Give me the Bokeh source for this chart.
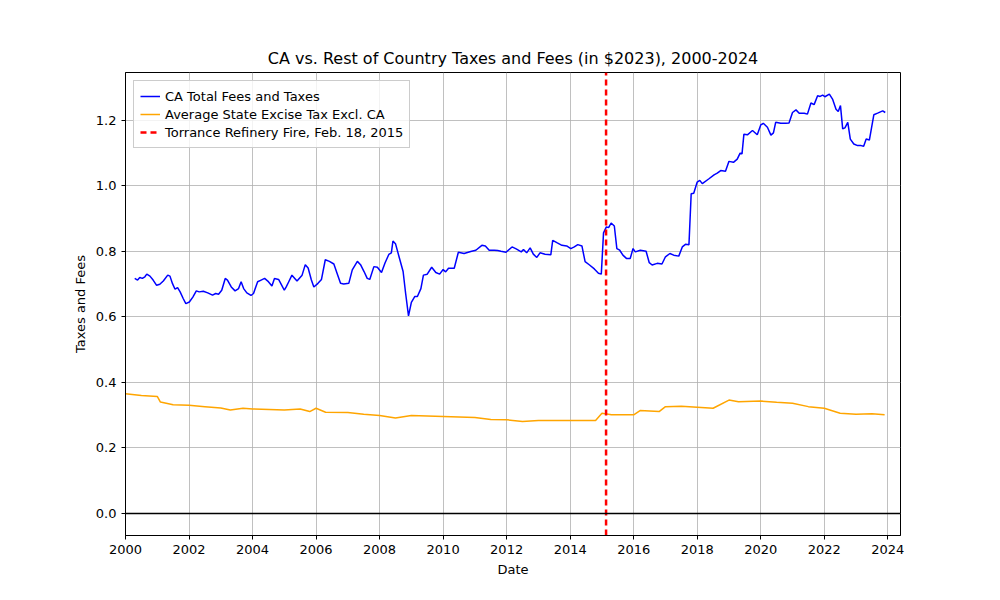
from bokeh.plotting import figure
from bokeh.models import Range1d, Span, Legend, LegendItem, FixedTicker, CustomJSTickFormatter
from bokeh.embed import file_html
from bokeh.resources import INLINE

ca_year = [2000.29,2000.38,2000.45,2000.53,2000.61,2000.67,2000.77,2000.87,2000.98,2001.08,2001.19,2001.33,2001.4,2001.48,2001.56,2001.64,2001.72,2001.82,2001.9,2002.01,2002.12,2002.23,2002.32,2002.45,2002.59,2002.74,2002.84,2002.93,2003.03,2003.14,2003.21,2003.33,2003.45,2003.56,2003.64,2003.72,2003.82,2003.95,2004.03,2004.16,2004.27,2004.38,2004.48,2004.61,2004.69,2004.82,2004.92,2005.0,
           2005.06,2005.14,2005.24,2005.4,2005.56,2005.66,2005.75,2005.85,2005.93,2006.06,2006.17,2006.29,2006.42,2006.56,2006.66,2006.77,2006.87,2007.03,2007.14,2007.3,2007.4,2007.51,2007.61,2007.69,2007.82,2007.93,2008.06,2008.17,2008.29,2008.37,2008.42,2008.5,2008.61,2008.74,2008.82,2008.91,2009.0,2009.11,2009.19,2009.3,2009.38,2009.5,2009.64,2009.77,2009.89,2010.0,2010.08,2010.17,2010.35,2010.48,2010.66,2010.87,2011.03,2011.22,2011.33,2011.45,2011.61,2011.72,2011.82,2011.98,2012.17,2012.3,2012.46,
           2012.53,2012.63,2012.74,2012.84,2012.95,2013.05,2013.21,2013.39,2013.45,2013.58,2013.74,2013.89,2014.02,2014.13,2014.24,2014.37,2014.47,2014.61,2014.76,2014.89,2014.98,2015.05,2015.14,2015.21,2015.29,2015.39,2015.47,2015.56,2015.66,2015.77,2015.89,2015.98,2016.05,2016.21,2016.39,2016.49,2016.58,2016.74,2016.89,2017.0,2017.14,2017.26,2017.42,2017.53,2017.63,2017.74,2017.81,2017.89,2018.0,2018.08,2018.16,2018.37,2018.53,2018.63,2018.74,2018.89,2019.0,2019.14,2019.26,2019.35,2019.41,2019.47,2019.58,2019.74,2019.89,2020.0,2020.08,2020.21,2020.32,2020.4,2020.47,2020.63,2020.79,2020.89,2021.0,2021.11,2021.21,2021.37,2021.47,2021.58,2021.68,2021.79,2021.87,2021.95,2022.02,2022.16,2022.26,2022.37,2022.44,2022.51,2022.58,2022.65,2022.74,2022.82,2022.93,2023.05,2023.16,2023.24,2023.32,2023.42,2023.56,2023.68,2023.84,2023.92]
ca_val = [0.717,0.712,0.72,0.717,0.722,0.73,0.724,0.712,0.696,0.699,0.709,0.727,0.724,0.701,0.684,0.689,0.676,0.655,0.640,0.645,0.660,0.679,0.676,0.678,0.673,0.666,0.671,0.669,0.681,0.717,0.712,0.691,0.679,0.686,0.707,0.686,0.673,0.665,0.671,0.707,0.712,0.717,0.709,0.694,0.717,0.714,0.696,0.681,
          0.691,0.707,0.727,0.709,0.727,0.759,0.749,0.713,0.691,0.702,0.714,0.774,0.769,0.761,0.733,0.702,0.700,0.702,0.743,0.769,0.759,0.738,0.717,0.714,0.753,0.751,0.735,0.764,0.790,0.795,0.831,0.823,0.784,0.738,0.671,0.603,0.644,0.662,0.662,0.686,0.727,0.730,0.751,0.735,0.730,0.744,0.737,0.748,0.748,0.797,0.793,0.799,0.803,0.818,0.816,0.803,0.803,0.802,0.800,0.797,0.813,0.807,0.798,
          0.805,0.795,0.810,0.791,0.781,0.795,0.791,0.789,0.833,0.826,0.818,0.816,0.808,0.813,0.820,0.816,0.768,0.758,0.746,0.733,0.730,0.856,0.874,0.872,0.886,0.877,0.808,0.803,0.788,0.778,0.778,0.808,0.798,0.803,0.800,0.765,0.758,0.763,0.761,0.783,0.793,0.788,0.785,0.813,0.821,0.820,0.975,0.977,1.011,1.016,1.006,1.021,1.033,1.038,1.046,1.044,1.074,1.071,1.081,1.099,1.097,1.157,1.155,1.168,1.155,1.185,1.190,1.178,1.154,1.161,1.193,1.190,1.190,1.191,1.223,1.231,1.221,1.221,1.218,1.252,1.247,1.274,1.272,1.276,1.271,1.279,1.264,1.233,1.226,1.244,1.173,1.176,1.193,1.142,1.127,1.122,1.122,1.120,1.142,1.139,1.216,1.221,1.228,1.223]

ex_year = [2000.0,2000.5,2001.0,2001.1,2001.5,2002.0,2002.5,2003.0,2003.3,2003.7,2004.0,2005.0,2005.5,2005.8,2006.0,2006.3,2007.0,2007.5,2008.0,2008.5,2009.0,2010.0,2011.0,2011.5,2012.0,2012.5,2013.0,2014.0,2014.8,2015.0,2015.3,2016.0,2016.2,2016.8,2017.0,2017.5,2018.0,2018.5,2019.0,2019.3,2020.0,2020.5,2021.0,2021.5,2022.0,2022.5,2023.0,2023.5,2023.9]
ex_val = [0.365,0.36,0.357,0.34,0.332,0.33,0.326,0.322,0.316,0.321,0.319,0.316,0.319,0.311,0.321,0.309,0.308,0.303,0.299,0.291,0.299,0.296,0.293,0.287,0.286,0.281,0.284,0.284,0.284,0.306,0.301,0.301,0.314,0.311,0.326,0.327,0.324,0.321,0.346,0.341,0.343,0.339,0.336,0.326,0.321,0.306,0.303,0.304,0.301]

fire_year = 2015.13
x_ticks = list(range(2000, 2025, 2))
y_ticks = [0.0, 0.2, 0.4, 0.6, 0.8, 1.0, 1.2]

p = figure(width=1000, height=600, output_backend="svg", toolbar_location=None,
           x_range=Range1d(2000, 2024.4), y_range=Range1d(-0.067, 1.345),
           title="CA vs. Rest of Country Taxes and Fees (in $2023), 2000-2024",
           min_border_left=125, min_border_right=100, min_border_top=72, min_border_bottom=65)
p.title.align = "center"
p.title.text_font = "DejaVu Sans"
p.title.text_font_size = "16px"
p.title.text_font_style = "normal"
p.title.text_color = "black"
p.outline_line_color = "black"
for ax in (p.xaxis[0], p.yaxis[0]):
    ax.major_label_text_font = "DejaVu Sans"
    ax.major_label_text_font_size = "13px"
    ax.major_label_text_color = "black"
    ax.axis_label_text_font = "DejaVu Sans"
    ax.axis_label_text_font_size = "13px"
    ax.axis_label_text_font_style = "normal"
    ax.axis_label_text_color = "black"
    ax.minor_tick_line_color = None
    ax.major_tick_out = 4
    ax.major_tick_in = 0
    ax.axis_line_color = "black"
    ax.major_tick_line_color = "black"
p.xaxis.axis_label = "Date"
p.yaxis.axis_label = "Taxes and Fees"
p.xaxis.ticker = FixedTicker(ticks=x_ticks)
p.yaxis.ticker = FixedTicker(ticks=y_ticks)
p.yaxis.formatter = CustomJSTickFormatter(code="return tick.toFixed(1);")
p.grid.grid_line_color = "#b0b0b0"
p.grid.grid_line_width = 0.8

p.add_layout(Span(location=0, dimension="width", line_color="black", line_width=1.5))
r1 = p.line(ca_year, ca_val, line_color="blue", line_width=1.5)
r2 = p.line(ex_year, ex_val, line_color="orange", line_width=1.5)
r3 = p.line([fire_year, fire_year], [-0.067, 1.345], line_color="red", line_width=2.5, line_dash="6 4")

leg = Legend(items=[LegendItem(label="CA Total Fees and Taxes", renderers=[r1]),
                    LegendItem(label="Average State Excise Tax Excl. CA", renderers=[r2]),
                    LegendItem(label="Torrance Refinery Fire, Feb. 18, 2015", renderers=[r3])],
             location="top_left", label_text_font="DejaVu Sans", label_text_font_size="13px",
             label_text_color="black",
             border_line_color="#cccccc", border_line_alpha=1, background_fill_alpha=0.8,
             spacing=0, padding=6, margin=8, glyph_height=18, label_height=18)
p.add_layout(leg)

open("out.html", "w").write(file_html(p, INLINE))
